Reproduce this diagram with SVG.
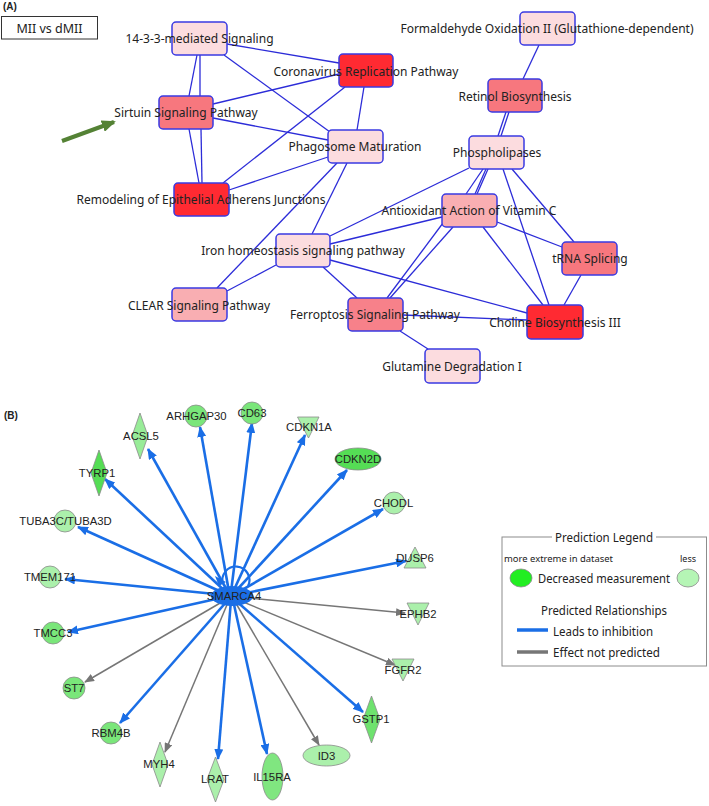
<svg xmlns="http://www.w3.org/2000/svg" width="709" height="806" viewBox="0 0 709 806">
<style>
.a-box{stroke:#3a3ae2;stroke-width:1.5}
.a-lbl{font-family:"Noto Sans","Open Sans",sans-serif;font-size:12px;fill:#222;text-anchor:middle}
.a-edge{stroke:#2c2cd8;stroke-width:1.3;fill:none}
.pale{fill:#fcdcdf}.mid{fill:#f9aeb2}.sal{fill:#f7777e}.red{fill:#ff2a32}
.b-lbl{font-family:"Liberation Sans",Arial,sans-serif;font-size:11.3px;fill:#222;text-anchor:middle}
.g1{fill:#55dd55}.g2{fill:#7ae67a}.g3{fill:#abf0ab}
.gn{stroke:#8a8a8a;stroke-width:0.8}
.inh{stroke:#1a6ee6;stroke-width:2.6;fill:none;marker-end:url(#ab)}
.nop{stroke:#767676;stroke-width:1.5;fill:none;marker-end:url(#ag)}
.panel{font-family:"Liberation Sans",Arial,sans-serif;font-weight:bold;font-size:10px;fill:#222}
.leg{font-family:"Noto Sans","Open Sans",sans-serif;fill:#222}
</style>
<defs>
<marker id="ab" markerWidth="11" markerHeight="9" refX="10" refY="4.5" orient="auto" markerUnits="userSpaceOnUse"><path d="M0,0 L11,4.5 L0,9 z" fill="#1a6ee6"/></marker>
<marker id="ag" markerWidth="10" markerHeight="8" refX="9" refY="4" orient="auto" markerUnits="userSpaceOnUse"><path d="M0,0 L10,4 L0,8 z" fill="#767676"/></marker>
<marker id="agr" markerWidth="14" markerHeight="12" refX="12" refY="6" orient="auto" markerUnits="userSpaceOnUse"><path d="M0,0 L14,6 L0,12 z" fill="#548235"/></marker>
</defs>
<rect width="709" height="806" fill="#fff"/>

<!-- Panel A -->
<text class="panel" x="3" y="10">(A)</text>
<g id="title-box">
<rect x="1.5" y="16.5" width="96" height="22.5" fill="#fff" stroke="#333" stroke-width="1"/>
<text x="49.5" y="32.5" style="font-family:'Noto Sans','Open Sans',sans-serif;font-size:12.5px;fill:#222;text-anchor:middle">MII vs dMII</text>
</g>
<g id="annotation-arrow">
<line x1="62" y1="141" x2="114" y2="122" stroke="#548235" stroke-width="4" marker-end="url(#agr)"/>
</g>

<g id="a-edges" class="a-edge">
<line x1="197" y1="55" x2="189" y2="96"/>
<line x1="200" y1="55" x2="200" y2="96"/>
<line x1="227" y1="44" x2="339" y2="63"/>
<line x1="224" y1="55" x2="330" y2="132"/>
<line x1="213" y1="104" x2="339" y2="74"/>
<line x1="213" y1="118" x2="328" y2="140"/>
<line x1="189" y1="129" x2="199" y2="183"/>
<line x1="201" y1="129" x2="202" y2="183"/>
<line x1="223" y1="183" x2="345" y2="87"/>
<line x1="229" y1="190" x2="328" y2="157"/>
<line x1="364" y1="87" x2="357" y2="130"/>
<line x1="337" y1="163" x2="217" y2="288"/>
<line x1="347" y1="163" x2="312" y2="234"/>
<line x1="276" y1="265" x2="227" y2="291"/>
<line x1="330" y1="236" x2="469" y2="168"/>
<line x1="330" y1="244" x2="442" y2="217"/>
<line x1="330" y1="260" x2="527" y2="313"/>
<line x1="323" y1="267" x2="357" y2="298"/>
<line x1="539" y1="45" x2="523" y2="79"/>
<line x1="506" y1="112" x2="498" y2="136"/>
<line x1="509" y1="112" x2="501" y2="136"/>
<line x1="483" y1="169" x2="466" y2="194"/>
<line x1="486" y1="169" x2="475" y2="194"/>
<line x1="488" y1="169" x2="477" y2="194"/>
<line x1="443" y1="223" x2="387" y2="298"/>
<line x1="453" y1="227" x2="390" y2="298"/>
<line x1="483" y1="227" x2="543" y2="305"/>
<line x1="503" y1="169" x2="549" y2="305"/>
<line x1="512" y1="169" x2="574" y2="242"/>
<line x1="497" y1="222" x2="562" y2="247"/>
<line x1="581" y1="275" x2="564" y2="305"/>
<line x1="403" y1="315" x2="527" y2="320"/>
<line x1="400" y1="331" x2="428" y2="349"/>
</g>

<g id="n-1433"><rect class="a-box pale" x="172" y="22" width="55" height="33" rx="4"/><text class="a-lbl" x="199.5" y="43">14-3-3-mediated Signaling</text></g>
<g id="n-corona"><rect class="a-box red" x="339" y="54" width="54" height="33" rx="4"/><text class="a-lbl" x="366" y="76">Coronavirus Replication Pathway</text></g>
<g id="n-sirtuin"><rect class="a-box sal" x="159" y="96" width="54" height="33" rx="4"/><text class="a-lbl" x="186" y="117">Sirtuin Signaling Pathway</text></g>
<g id="n-phago"><rect class="a-box pale" x="328" y="130" width="55" height="33" rx="4"/><text class="a-lbl" x="355" y="151">Phagosome Maturation</text></g>
<g id="n-remod"><rect class="a-box red" x="174" y="183" width="55" height="33" rx="4"/><text class="a-lbl" x="201" y="204">Remodeling of Epithelial Adherens Junctions</text></g>
<g id="n-iron"><rect class="a-box pale" x="276" y="234" width="54" height="33" rx="4"/><text class="a-lbl" x="303" y="255">Iron homeostasis signaling pathway</text></g>
<g id="n-clear"><rect class="a-box mid" x="172" y="288" width="55" height="33" rx="4"/><text class="a-lbl" x="199" y="310">CLEAR Signaling Pathway</text></g>
<g id="n-ferro"><rect class="a-box sal" x="348" y="298" width="55" height="33" rx="4" style="fill:#f7818a"/><text class="a-lbl" x="375" y="319">Ferroptosis Signaling Pathway</text></g>
<g id="n-glut"><rect class="a-box pale" x="425" y="349" width="55" height="34" rx="4"/><text class="a-lbl" x="452" y="371">Glutamine Degradation I</text></g>
<g id="n-choline"><rect class="a-box red" x="527" y="305" width="56" height="34" rx="4"/><text class="a-lbl" x="555" y="327">Choline Biosynthesis III</text></g>
<g id="n-trna"><rect class="a-box sal" x="562" y="242" width="55" height="33" rx="4"/><text class="a-lbl" x="590" y="263">tRNA Splicing</text></g>
<g id="n-antiox"><rect class="a-box mid" x="442" y="194" width="55" height="33" rx="4"/><text class="a-lbl" x="469" y="215">Antioxidant Action of Vitamin C</text></g>
<g id="n-phospho"><rect class="a-box pale" x="469" y="136" width="55" height="33" rx="4"/><text class="a-lbl" x="497" y="157">Phospholipases</text></g>
<g id="n-retinol"><rect class="a-box sal" x="488" y="79" width="54" height="33" rx="4"/><text class="a-lbl" x="515" y="101">Retinol Biosynthesis</text></g>
<g id="n-formal"><rect class="a-box pale" x="520" y="12" width="55" height="33" rx="4"/><text class="a-lbl" x="547" y="33">Formaldehyde Oxidation II (Glutathione-dependent)</text></g>

<!-- Panel B -->
<text class="panel" x="4" y="419">(B)</text>
<g id="b-edges">
<line class="inh" x1="228" y1="592" x2="148" y2="449"/>
<line class="inh" x1="229" y1="592" x2="200" y2="427"/>
<line class="inh" x1="231" y1="592" x2="252" y2="423"/>
<line class="inh" x1="233" y1="592" x2="305" y2="435"/>
<line class="inh" x1="234" y1="593" x2="347" y2="470"/>
<line class="inh" x1="235" y1="594" x2="383" y2="509"/>
<line class="inh" x1="236" y1="595" x2="406" y2="561"/>
<line class="inh" x1="227" y1="593" x2="105" y2="479"/>
<line class="inh" x1="226" y1="594" x2="78" y2="527"/>
<line class="inh" x1="225" y1="595" x2="65" y2="579"/>
<line class="inh" x1="225" y1="597" x2="68" y2="632"/>
<line class="nop" x1="227" y1="599" x2="85" y2="682"/>
<line class="inh" x1="228" y1="600" x2="120" y2="723"/>
<line class="nop" x1="229" y1="600" x2="165" y2="752"/>
<line class="inh" x1="231" y1="600" x2="218" y2="759"/>
<line class="inh" x1="233" y1="600" x2="267" y2="754"/>
<line class="nop" x1="234" y1="600" x2="319" y2="745"/>
<line class="inh" x1="235" y1="600" x2="363" y2="712"/>
<line class="nop" x1="236" y1="599" x2="395" y2="665"/>
<line class="nop" x1="237" y1="597" x2="405" y2="613"/>
<path d="M223,584 A13.5,13.5 0 1 1 248,586" fill="none" stroke="#1a6ee6" stroke-width="2.2"/>
<path d="M215,576 L226,582 L219,586 z" fill="#1a6ee6"/>
</g>

<g id="n-smarca4"><ellipse cx="232" cy="596" rx="21" ry="10" fill="#1a6ee6"/><text class="b-lbl" x="234" y="600">SMARCA4</text></g>
<g id="n-acsl5"><path class="g3 gn" d="M140,413 L148,436 L140,459 L132,436 z" style="fill:#98ec98"/><text class="b-lbl" x="141" y="440">ACSL5</text></g>
<g id="n-arhgap30"><circle class="g2 gn" cx="196" cy="416" r="11"/><text class="b-lbl" x="196.5" y="420">ARHGAP30</text></g>
<g id="n-cd63"><circle class="g2 gn" cx="252" cy="413" r="11"/><text class="b-lbl" x="252" y="417">CD63</text></g>
<g id="n-cdkn1a"><path class="g3 gn" d="M297.5,417 L319,417 L308.5,438 z"/><text class="b-lbl" x="309" y="431">CDKN1A</text></g>
<g id="n-cdkn2d"><ellipse class="g1 gn" cx="358" cy="459" rx="23" ry="11"/><text class="b-lbl" x="358" y="463">CDKN2D</text></g>
<g id="n-chodl"><circle class="g3 gn" cx="394" cy="503" r="11"/><text class="b-lbl" x="393.5" y="507">CHODL</text></g>
<g id="n-dusp6"><path class="g3 gn" d="M415,547 L426,568 L404,568 z"/><text class="b-lbl" x="415" y="562">DUSP6</text></g>
<g id="n-ephb2"><path class="g3 gn" d="M407,603 L429,603 L418,625 z"/><text class="b-lbl" x="418" y="618">EPHB2</text></g>
<g id="n-fgfr2"><path class="g3 gn" d="M392,659 L414,659 L403,681 z"/><text class="b-lbl" x="403" y="674">FGFR2</text></g>
<g id="n-gstp1"><path class="g2 gn" d="M371.5,696 L380,719.5 L371.5,743 L363,719.5 z" style="fill:#6ee26e"/><text class="b-lbl" x="371" y="723">GSTP1</text></g>
<g id="n-id3"><ellipse class="g3 gn" cx="326.5" cy="755.5" rx="23.5" ry="10.5"/><text class="b-lbl" x="326.5" y="759.5">ID3</text></g>
<g id="n-il15ra"><ellipse class="g2 gn" cx="272.5" cy="776.5" rx="10.5" ry="23.5" style="fill:#80e680"/><text class="b-lbl" x="272" y="781">IL15RA</text></g>
<g id="n-lrat"><path class="g3 gn" d="M215.5,757 L224,779.5 L215.5,802 L207,779.5 z"/><text class="b-lbl" x="215" y="783">LRAT</text></g>
<g id="n-myh4"><path class="g3 gn" d="M160,742 L168,764.5 L160,787 L152,764.5 z"/><text class="b-lbl" x="159" y="768">MYH4</text></g>
<g id="n-rbm4b"><circle class="g2 gn" cx="111" cy="733" r="11"/><text class="b-lbl" x="111" y="737">RBM4B</text></g>
<g id="n-st7"><circle class="g2 gn" cx="74" cy="688" r="11"/><text class="b-lbl" x="74" y="692">ST7</text></g>
<g id="n-tmcc3"><circle class="g2 gn" cx="53" cy="633" r="11"/><text class="b-lbl" x="53" y="637">TMCC3</text></g>
<g id="n-tmem171"><circle class="g3 gn" cx="50" cy="577" r="11"/><text class="b-lbl" x="50" y="581">TMEM171</text></g>
<g id="n-tuba3c"><circle class="g3 gn" cx="65" cy="521" r="11"/><text class="b-lbl" x="65.5" y="525">TUBA3C/TUBA3D</text></g>
<g id="n-tyrp1"><path class="g1 gn" d="M99,450 L107,473 L99,496 L91,473 z"/><text class="b-lbl" x="97" y="477">TYRP1</text></g>

<g id="legend">
<rect x="502" y="537" width="204.5" height="129" fill="#fff" stroke="#8c8c8c" stroke-width="1"/>
<rect x="552" y="530" width="104" height="14" fill="#fff"/>
<text class="leg" x="604" y="542" text-anchor="middle" font-size="13" textLength="98" lengthAdjust="spacingAndGlyphs">Prediction Legend</text>
<text class="leg" x="504" y="562" font-size="9" textLength="109" lengthAdjust="spacingAndGlyphs">more extreme in dataset</text>
<text class="leg" x="680" y="562" font-size="9">less</text>
<ellipse cx="521" cy="578" rx="11" ry="9" fill="#22ee22" stroke="#888" stroke-width="0.8"/>
<text class="leg" x="538" y="583" font-size="13" textLength="132" lengthAdjust="spacingAndGlyphs">Decreased measurement</text>
<ellipse cx="688" cy="578" rx="11" ry="9" fill="#b5f5b5" stroke="#888" stroke-width="0.8"/>
<text class="leg" x="604" y="615" text-anchor="middle" font-size="13" textLength="126" lengthAdjust="spacingAndGlyphs">Predicted Relationships</text>
<line x1="517" y1="630" x2="548" y2="630" stroke="#1a6ee6" stroke-width="3.5"/>
<text class="leg" x="553" y="636" font-size="13" textLength="100" lengthAdjust="spacingAndGlyphs">Leads to inhibition</text>
<line x1="517" y1="652" x2="548" y2="652" stroke="#767676" stroke-width="3.5"/>
<text class="leg" x="553" y="657" font-size="13" textLength="107" lengthAdjust="spacingAndGlyphs">Effect not predicted</text>
</g>
</svg>
